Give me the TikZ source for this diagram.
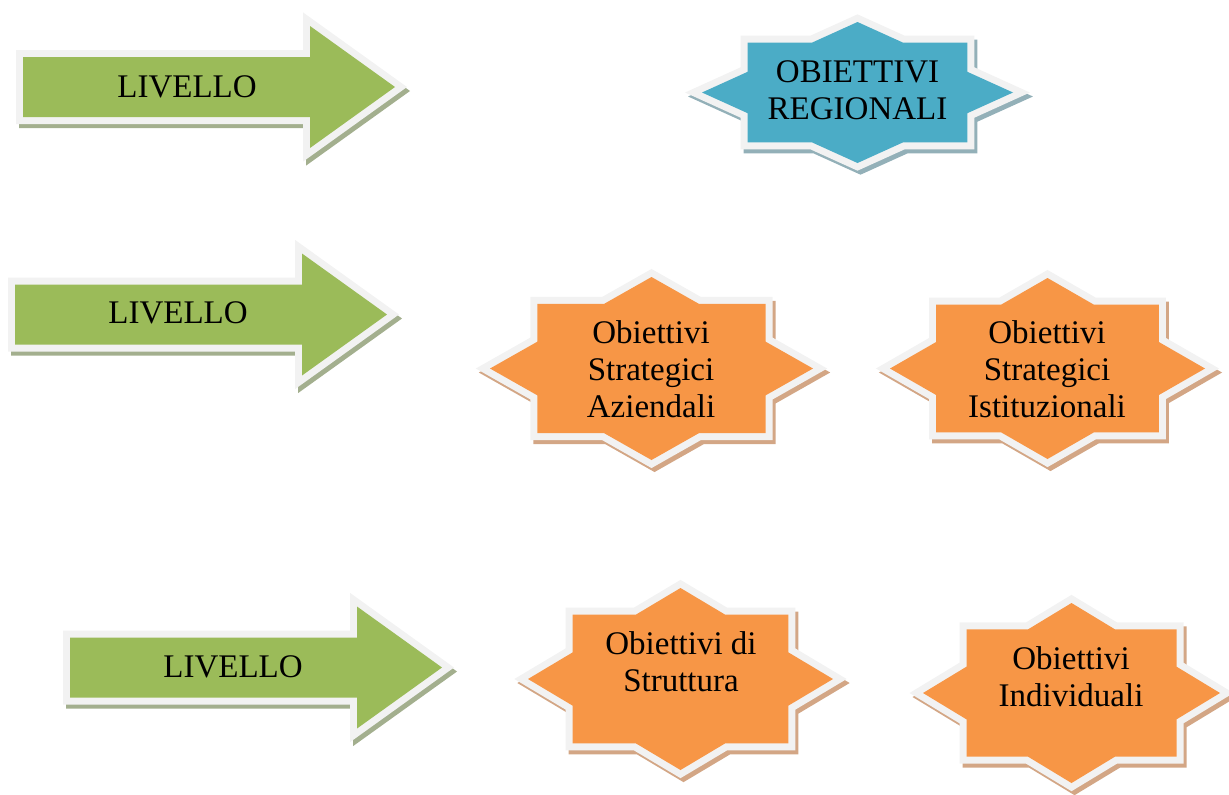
\documentclass[tikz,border=0pt]{standalone}
\usepackage{fontspec}
\setmainfont{Liberation Serif}
\usetikzlibrary{positioning}
\definecolor{lvlGreen}{HTML}{9BBB59}
\definecolor{lvlShade}{HTML}{A3AF8E}
\definecolor{regBlue}{HTML}{4BACC6}
\definecolor{regShade}{HTML}{93B0B8}
\definecolor{objOrange}{HTML}{F79646}
\definecolor{objShade}{HTML}{D3A685}
\definecolor{objRim}{HTML}{F2F2F2}
\tikzset{
  rimmed/.style 2 args = {fill=#1, line join=miter,
      preaction={draw=#2, fill=#2, line width=7pt,
                 transform canvas={xshift=1.5pt, yshift=-2pt}},
      preaction={draw=objRim, line width=7pt}},
  lvltext/.style = {font=\fontsize{16.5}{18.5}\selectfont, inner sep=0pt},
  objtext/.style = {font=\fontsize{16.5}{18.5}\selectfont, align=center,
                    inner sep=0pt},
}
% eight-pointed star: fill, shadow, centre, half width, half height
\newcommand{\octstar}[5]{%
  \path[rimmed={#1}{#2}, shift={#3}, xscale=#4, yscale=#5]
    (1,0) -- (.707,.293) -- (.707,.707) -- (.293,.707) -- (0,1)
    -- (-.293,.707) -- (-.707,.707) -- (-.707,.293) -- (-1,0)
    -- (-.707,-.293) -- (-.707,-.707) -- (-.293,-.707) -- (0,-1)
    -- (.293,-.707) -- (.707,-.707) -- (.707,-.293) -- cycle;}
% block arrow, from the left end of its shaft
\newcommand{\lvlarrow}[1]{%
  \path[rimmed={lvlGreen}{lvlShade}, shift={#1}]
    (0,-30) -- (287,-30) -- (287,-61) -- (372,0) -- (287,61)
    -- (287,30) -- (0,30) -- cycle;}

\begin{document}
\begin{tikzpicture}[x=0.5pt, y=-0.5pt]
  \useasboundingbox (0,0) rectangle (1229,794);

  % levels
  \lvlarrow{(23,87)}
  \lvlarrow{(15,314.5)}
  \lvlarrow{(70,667.5)}
  \node[lvltext, anchor=base] (lev1) at (187,97) {LIVELLO};
  \node[lvltext, anchor=base] (lev2) at (178,323) {LIVELLO};
  \node[lvltext, anchor=base] (lev3) at (233,677) {LIVELLO};

  % objectives
  \octstar{regBlue}{regShade}{(857.5,92.5)}{155.5}{70.5}
  \octstar{objOrange}{objShade}{(651.5,368.5)}{161.5}{91.5}
  \octstar{objOrange}{objShade}{(1047.5,368.5)}{157.5}{90.5}
  \octstar{objOrange}{objShade}{(680.5,679)}{152.5}{91}
  \octstar{objOrange}{objShade}{(1071.5,693)}{148.5}{90}

  \node[objtext] (regional) at (857.5,90.1) {OBIETTIVI\\REGIONALI};
  \node[objtext] (company) at (651,369.6) {Obiettivi\\Strategici\\Aziendali};
  \node[objtext] (institution) at (1047,369.6)
    {Obiettivi\\Strategici\\Istituzionali};
  \node[objtext] (structure) at (681,662.1) {Obiettivi di\\Struttura};
  \node[objtext] (individual) at (1071,677.1) {Obiettivi\\Individuali};
\end{tikzpicture}
\end{document}
